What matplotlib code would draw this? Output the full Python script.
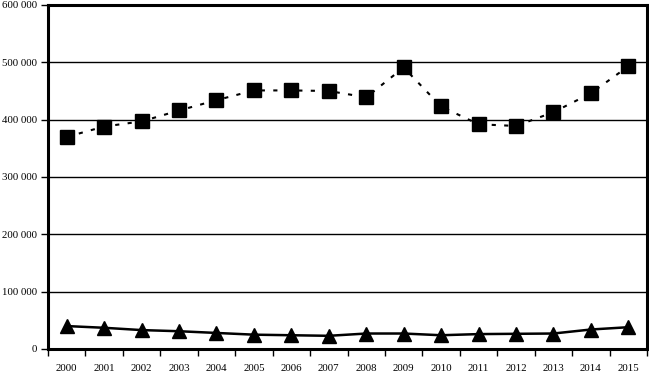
import numpy as np
import matplotlib.pyplot as plt
from matplotlib.ticker import FuncFormatter

years = ['2000', '2001', '2002', '2003', '2004', '2005', '2006', '2007',
         '2008', '2009', '2010', '2011', '2012', '2013', '2014', '2015']
upper = [370000, 388000, 397000, 416000, 434000, 451000, 451000, 450000,
         439000, 491000, 423000, 392000, 389000, 413000, 446000, 493000]
lower = [40000, 37000, 33000, 31000, 28000, 25000, 24000, 23000,
         27000, 27000, 24000, 26000, 26500, 27000, 34000, 38000]

plt.rcParams['font.family'] = 'Liberation Serif'

fig = plt.figure(figsize=(6.49, 3.76), dpi=100)
ax = fig.add_axes([48 / 649, 1 - 349 / 376, 599 / 649, 344 / 376])

x = np.arange(len(years))
ax.plot(x, upper, color='black', linestyle=(0, (2, 4)), linewidth=1.5,
        marker='s', markersize=9.5, zorder=3)
ax.plot(x, lower, color='black', linestyle='-', linewidth=1.8,
        marker='^', markersize=10, zorder=3)

ax.set_xlim(-0.5, len(years) - 0.5)
ax.set_ylim(0, 600000)
ax.set_yticks(np.arange(0, 600001, 100000))
ax.yaxis.set_major_formatter(FuncFormatter(
    lambda v, p: '0' if v == 0 else f'{int(v):,}'.replace(',', ' ')))
ax.grid(axis='y', color='black', linewidth=1)
ax.set_axisbelow(True)

ax.set_xticks(x)
ax.set_xticklabels(years)
ax.set_xticks(np.arange(-0.5, len(years)), minor=True)
ax.tick_params(axis='x', which='major', length=0, pad=11, labelsize=7.8)
ax.tick_params(axis='x', which='minor', length=5, width=1, direction='out')
ax.tick_params(axis='y', length=5, width=1, pad=3, labelsize=7.8)
for lbl in ax.get_yticklabels():
    lbl.set_verticalalignment('center_baseline')

for s in ax.spines.values():
    s.set_linewidth(2.2)
    s.set_color('black')

fig.savefig('out.png', dpi=100)
